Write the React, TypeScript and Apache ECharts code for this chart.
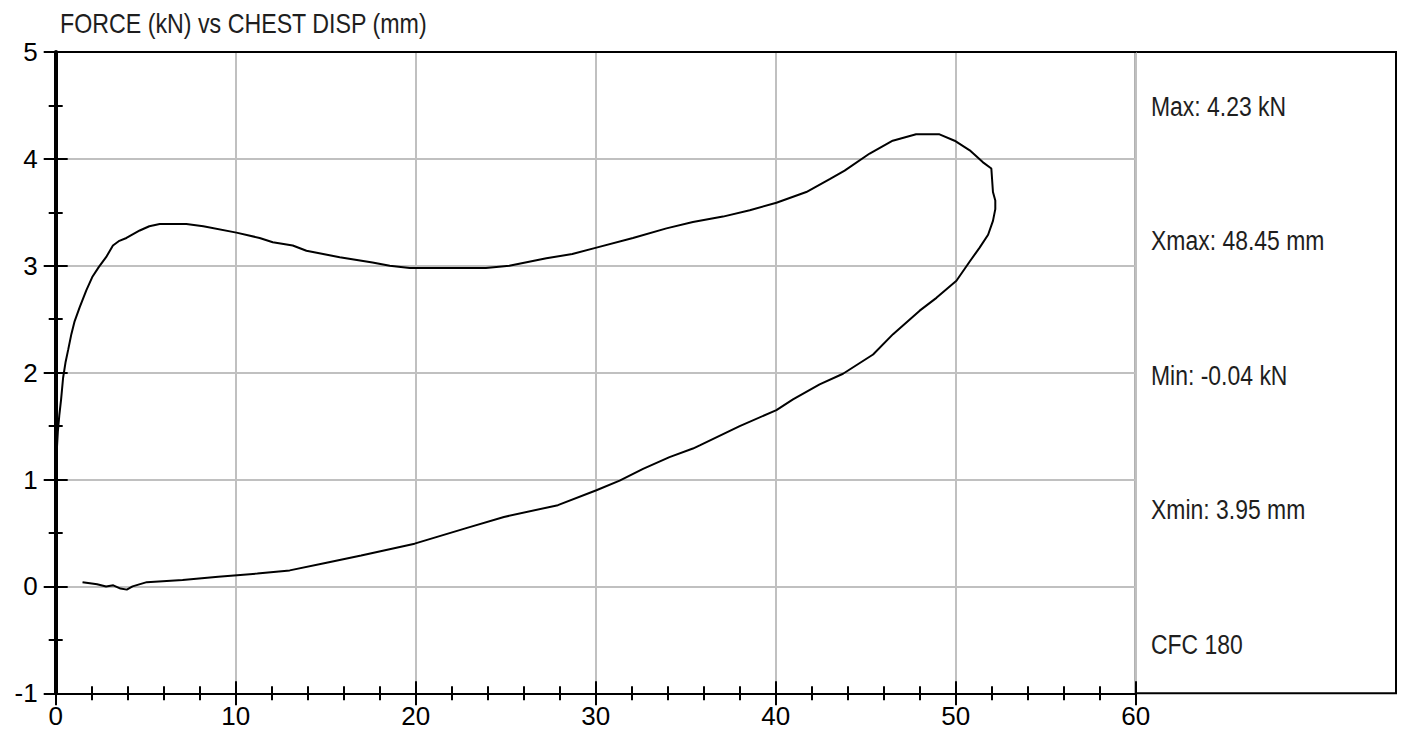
import React, { useEffect, useRef } from "react";
import * as echarts from "echarts";

const titleText = "FORCE (kN) vs CHEST DISP (mm)";
const statLines = ["Max: 4.23 kN", "Xmax: 48.45 mm", "Min: -0.04 kN", "Xmin: 3.95 mm", "CFC 180"];

const dispMm = [
  0.0, 0.02, 0.05, 0.04, 0.05, 0.07, 0.12, 0.2, 0.3, 0.41, 0.55, 0.7, 0.87, 1.05, 1.33, 1.7, 2.05, 2.4, 2.8, 3.18,
  3.5, 3.93, 4.67, 5.2, 5.78, 7.26, 8.2, 10.04, 11.33, 12.06, 13.17, 13.93, 15.78, 17.6, 18.56, 19.67, 20.0, 23.9,
  25.2, 27.26, 28.7, 30.04, 32.07, 33.93, 35.4, 37.07, 38.56, 40.04, 41.7, 43.0, 43.83, 45.22, 46.5, 47.8, 49.1,
  49.94, 50.78, 51.5, 51.98, 52.07, 52.2, 52.2, 52.07, 51.8, 51.33, 50.78, 50.04, 48.93, 48.0, 46.52, 45.41, 43.74,
  42.44, 40.96, 40.04, 38.0, 35.78, 35.4, 34.1, 32.63, 31.33, 30.04, 27.9, 24.9, 22.9, 19.94, 16.97, 14.98, 13.0,
  11.2, 9.03, 7.05, 5.06, 4.27, 3.95, 3.6, 3.2, 2.8, 2.3, 1.9, 1.49,
];
const forceKn = [
  0.0, 0.2, 0.5, 0.9, 1.1, 1.3, 1.45, 1.6, 1.75, 1.95, 2.1, 2.22, 2.36, 2.48, 2.61, 2.77, 2.9, 2.99, 3.08, 3.19,
  3.23, 3.26, 3.33, 3.37, 3.39, 3.39, 3.37, 3.31, 3.26, 3.22, 3.19, 3.14, 3.08, 3.03, 3.0, 2.98, 2.98, 2.98, 3.0,
  3.07, 3.11, 3.17, 3.26, 3.35, 3.41, 3.46, 3.52, 3.59, 3.69, 3.81, 3.89, 4.05, 4.17, 4.23, 4.23, 4.17, 4.08,
  3.97, 3.91, 3.69, 3.61, 3.53, 3.42, 3.29, 3.17, 3.04, 2.86, 2.7, 2.58, 2.36, 2.17, 1.99, 1.89, 1.75, 1.65, 1.5,
  1.32, 1.29, 1.21, 1.1, 0.99, 0.9, 0.76, 0.65, 0.55, 0.4, 0.29, 0.22, 0.15, 0.12, 0.09, 0.06, 0.04, 0.0, -0.03,
  -0.02, 0.01, 0.0, 0.02, 0.03, 0.04,
];

const X_MIN = 0, X_MAX = 60, X_STEP = 10;
const Y_MIN = -1, Y_MAX = 5, Y_STEP = 1;

const LABEL_FONT = "Liberation Sans, Arial, sans-serif";

export default function App() {
  const ref = useRef<HTMLDivElement>(null);
  useEffect(() => {
    if (!ref.current) return;
    const chart = echarts.init(ref.current, null, { renderer: "svg" });
    const data = dispMm.map((x, i) => [x, forceKn[i]]);
    const gridL = 55.7, gridT = 52, gridR = 1403 - 1135.7, gridB = 744 - 693.3;
    const black = "#000";
    const gridGray = "#c0c0c0";
    const narrowText = (text: string, x: number, y: number, sx: number) => ({
      type: "text",
      x,
      y,
      scaleX: sx,
      scaleY: 1,
      style: {
        text,
        fill: "#1e1e1e",
        fontSize: 27,
        fontFamily: LABEL_FONT,
        verticalAlign: "middle",
        align: "left",
      },
    });
    const baseX = { type: "value", min: X_MIN, max: X_MAX, interval: X_STEP };
    const baseY = { type: "value", min: Y_MIN, max: Y_MAX, interval: Y_STEP };
    chart.setOption({
      animation: false,
      grid: { left: gridL, top: gridT, right: gridR, bottom: gridB, containLabel: false },
      xAxis: [
        {
          ...baseX,
          position: "bottom",
          axisLine: { show: true, onZero: false, lineStyle: { color: black, width: 2 } },
          axisTick: { show: true, length: 12, lineStyle: { color: black, width: 2 } },
          minorTick: { show: true, splitNumber: 5, length: 7, lineStyle: { color: black, width: 2 } },
          splitLine: { show: true, lineStyle: { color: gridGray, width: 2 } },
          axisLabel: { show: true, color: black, fontSize: 26, fontFamily: LABEL_FONT, margin: 10 },
        },
        {
          ...baseX,
          position: "bottom",
          axisLine: { show: false, onZero: false },
          axisTick: { show: true, inside: true, length: 12, lineStyle: { color: black, width: 2 } },
          minorTick: { show: true, splitNumber: 5, length: 7, lineStyle: { color: black, width: 2 } },
          splitLine: { show: false },
          axisLabel: { show: false },
        },
        {
          ...baseX,
          position: "top",
          axisLine: { show: true, onZero: false, lineStyle: { color: black, width: 2 } },
          axisTick: { show: false },
          splitLine: { show: false },
          axisLabel: { show: false },
        },
      ],
      yAxis: [
        {
          ...baseY,
          position: "left",
          axisLine: { show: true, onZero: false, lineStyle: { color: black, width: 4 } },
          axisTick: { show: true, length: 12, lineStyle: { color: black, width: 2 } },
          minorTick: { show: true, splitNumber: 2, length: 7, lineStyle: { color: black, width: 2 } },
          splitLine: { show: true, lineStyle: { color: gridGray, width: 2 } },
          axisLabel: { show: true, color: black, fontSize: 26, fontFamily: LABEL_FONT, margin: 18 },
        },
        {
          ...baseY,
          position: "left",
          axisLine: { show: false, onZero: false },
          axisTick: { show: true, inside: true, length: 12, lineStyle: { color: black, width: 2 } },
          minorTick: { show: true, splitNumber: 2, length: 7, lineStyle: { color: black, width: 2 } },
          splitLine: { show: false },
          axisLabel: { show: false },
        },
      ],
      series: [
        {
          type: "line",
          xAxisIndex: 0,
          yAxisIndex: 0,
          data,
          showSymbol: false,
          symbol: "none",
          smooth: false,
          lineStyle: { color: black, width: 2 },
          z: 5,
        },
      ],
      graphic: [
        narrowText(titleText, 60, 23, 0.86),
        {
          type: "rect",
          shape: { x: 1135.7, y: 52, width: 260.3, height: 641.3 },
          style: { fill: "none", stroke: black, lineWidth: 2 },
        },
        ...statLines.map((t, i) => narrowText(t, 1151, 106 + i * 134.5, 0.85)),
      ],
    });
    return () => chart.dispose();
  }, []);
  return <div ref={ref} style={{ position: "fixed", left: 0, top: 0, width: 1403, height: 744, background: "#fff" }} />;
}
